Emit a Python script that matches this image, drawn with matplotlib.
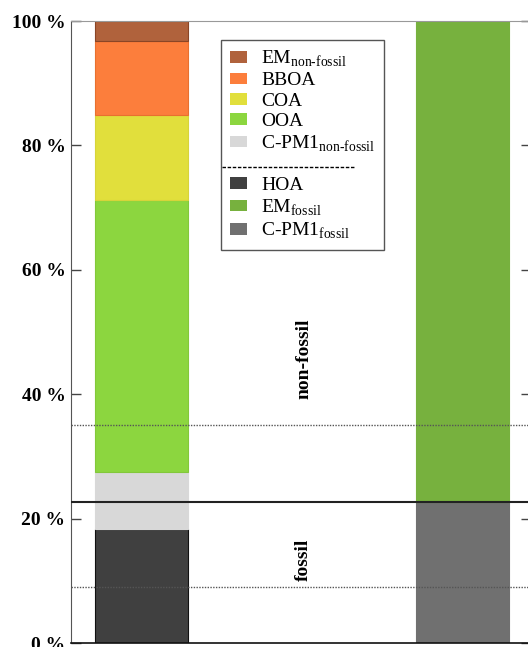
import matplotlib.pyplot as plt
from matplotlib.lines import Line2D
from matplotlib.patches import Patch

plt.rcParams['font.family'] = ['Liberation Serif', 'DejaVu Serif']
plt.rcParams['mathtext.fontset'] = 'custom'
plt.rcParams['mathtext.rm'] = 'Liberation Serif'

# stacked contributions (%), bottom to top
left_labels = ['HOA', 'C-PM1$_{\\text{non-fossil}}$', 'OOA', 'COA', 'BBOA', 'EM$_{\\text{non-fossil}}$']
left_values = [18.3, 9.2, 43.7, 13.7, 11.9, 3.2]
left_colors = ['#404040', '#d8d8d8', '#8cd63f', '#e1df3c', '#fc7e3c', '#b0623c']
left_edges = ['#111111', '#d8d8d8', '#82c83a', '#d6d43a', '#e8702f', '#8a4526']

right_labels = ['C-PM1$_{\\text{fossil}}$', 'EM$_{\\text{fossil}}$']
right_values = [22.6, 77.4]
right_colors = ['#707070', '#77b13e']

fossil_fraction = 22.6
dotted_levels = [9.0, 35.0]

fig = plt.figure(figsize=(5.28, 6.47), dpi=100)
ax = fig.add_axes([71 / 528, 4 / 647, 460 / 528, 622 / 647])

width = 0.29
bottom = 0
for v, c, e in zip(left_values, left_colors, left_edges):
    ax.bar(0, v, width, bottom=bottom, color=c, edgecolor=e, linewidth=0.8, zorder=2)
    bottom += v
bottom = 0
for v, c in zip(right_values, right_colors):
    ax.bar(1, v, width, bottom=bottom, color=c, edgecolor=c, linewidth=0.8, zorder=2)
    bottom += v

ax.axhline(fossil_fraction, color='#222222', lw=1.5, zorder=3)
for lv in dotted_levels:
    ax.axhline(lv, color='#555555', lw=1, ls=(0, (1, 1)), zorder=3)

ax.text(0.505, 45.7, 'non-fossil', rotation=90, ha='center', va='center',
        fontsize=14, fontweight='bold')
ax.text(0.505, 13.3, 'fossil', rotation=90, ha='center', va='center',
        fontsize=14, fontweight='bold')

ax.set_xlim(-0.2196, 1.2134)
ax.set_ylim(0, 100)
ax.set_xticks([])
ax.set_yticks([0, 20, 40, 60, 80, 100])
ax.set_yticklabels(['0 %', '20 %', '40 %', '60 %', '80 %', '100 %'],
                   fontsize=14, fontweight='bold')
ax.tick_params(axis='y', direction='in', length=7.2, width=1, color='#444444',
               right=True, pad=4)
ax.spines['left'].set_color('#555555')
ax.spines['top'].set_color('#999999')
ax.spines['bottom'].set_color('#111111')
ax.spines['bottom'].set_linewidth(1.2)

# legend (one hidden spacer row above the fossil group)
handles = []
for lab, c in zip(left_labels[::-1], left_colors[::-1]):
    if lab == 'HOA':
        continue
    handles.append(Patch(facecolor=c, label=lab))
handles.append(Patch(facecolor='none', edgecolor='none', label='HOA'))
handles.append(Patch(facecolor=left_colors[0], label='HOA'))
handles.append(Patch(facecolor=right_colors[1], label=right_labels[1]))
handles.append(Patch(facecolor=right_colors[0], label=right_labels[0]))

leg = ax.legend(handles=handles, loc='upper left',
                bbox_to_anchor=((221 - 71) / 460, (643 - 40) / 622),
                fontsize=14, frameon=True, fancybox=False, edgecolor='#555555',
                framealpha=1, handlelength=0.87, handleheight=0.55,
                labelspacing=0.17, borderpad=0.45, handletextpad=0.75,
                borderaxespad=0)
leg.get_frame().set_linewidth(1)
leg.get_texts()[5].set_alpha(0)

fig.add_artist(Line2D([222 / 528, 355 / 528], [1 - 167 / 647, 1 - 167 / 647],
                      color='black', lw=1, ls=(0, (2.5, 1.2))))

fig.savefig('out.png', dpi=100)
